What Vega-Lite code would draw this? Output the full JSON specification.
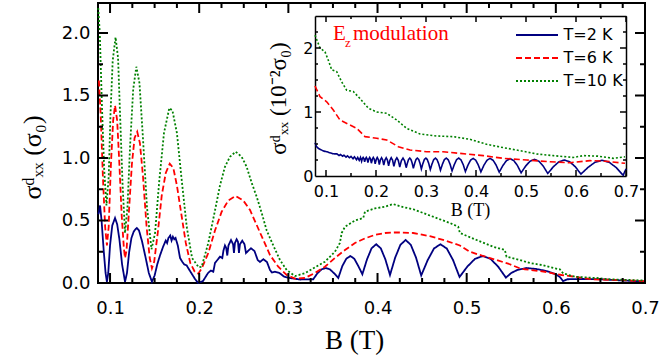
{
"$schema": "https://vega.github.io/schema/vega-lite/v6.json",
"width": 547, "height": 280,
"autosize": "none",
"padding": {"left": 98, "top": 3, "right": 15, "bottom": 79},
"datasets": {
"xmaj": [{"v":0.1},{"v":0.2},{"v":0.3},{"v":0.4},{"v":0.5},{"v":0.6},{"v":0.7}],
"xmin": [{"v":0.125},{"v":0.15},{"v":0.175},{"v":0.225},{"v":0.25},{"v":0.275},{"v":0.325},{"v":0.35},{"v":0.375},{"v":0.425},{"v":0.45},{"v":0.475},{"v":0.525},{"v":0.55},{"v":0.575},{"v":0.625},{"v":0.65},{"v":0.675}],
"ymaj": [{"v":0},{"v":0.5},{"v":1},{"v":1.5},{"v":2}],
"ymin": [{"v":0.25},{"v":0.75},{"v":1.25},{"v":1.75}],
"ixmin": [{"v":0.15},{"v":0.25},{"v":0.35},{"v":0.45},{"v":0.55},{"v":0.65}],
"iymaj": [{"v":1},{"v":2}],
"iymin": [{"v":0.25},{"v":0.5},{"v":0.75},{"v":1.25},{"v":1.5},{"v":1.75},{"v":2.25}],
"main": [
{"B":0.087,"s":0.55,"T":"T=2 K"},{"B":0.0888,"s":0.62,"T":"T=2 K"},{"B":0.0905,"s":0.5,"T":"T=2 K"},{"B":0.093,"s":0.25,"T":"T=2 K"},{"B":0.095,"s":0.08,"T":"T=2 K"},{"B":0.0965,"s":0.01,"T":"T=2 K"},{"B":0.098,"s":0.08,"T":"T=2 K"},{"B":0.1,"s":0.3,"T":"T=2 K"},{"B":0.1025,"s":0.46,"T":"T=2 K"},{"B":0.1056,"s":0.52,"T":"T=2 K"},{"B":0.108,"s":0.47,"T":"T=2 K"},{"B":0.1105,"s":0.35,"T":"T=2 K"},{"B":0.1135,"s":0.15,"T":"T=2 K"},{"B":0.1168,"s":0.01,"T":"T=2 K"},{"B":0.119,"s":0.08,"T":"T=2 K"},{"B":0.1215,"s":0.25,"T":"T=2 K"},{"B":0.124,"s":0.36,"T":"T=2 K"},{"B":0.1265,"s":0.41,"T":"T=2 K"},{"B":0.1285,"s":0.43,"T":"T=2 K"},{"B":0.13,"s":0.44,"T":"T=2 K"},{"B":0.1325,"s":0.42,"T":"T=2 K"},{"B":0.136,"s":0.33,"T":"T=2 K"},{"B":0.14,"s":0.2,"T":"T=2 K"},{"B":0.1435,"s":0.08,"T":"T=2 K"},{"B":0.147,"s":0.01,"T":"T=2 K"},{"B":0.15,"s":0.06,"T":"T=2 K"},{"B":0.153,"s":0.15,"T":"T=2 K"},{"B":0.156,"s":0.22,"T":"T=2 K"},{"B":0.1595,"s":0.29,"T":"T=2 K"},{"B":0.1625,"s":0.34,"T":"T=2 K"},{"B":0.164,"s":0.32,"T":"T=2 K"},{"B":0.1655,"s":0.36,"T":"T=2 K"},{"B":0.1675,"s":0.38,"T":"T=2 K"},{"B":0.169,"s":0.34,"T":"T=2 K"},{"B":0.1705,"s":0.37,"T":"T=2 K"},{"B":0.172,"s":0.35,"T":"T=2 K"},{"B":0.1735,"s":0.36,"T":"T=2 K"},{"B":0.176,"s":0.3,"T":"T=2 K"},{"B":0.1785,"s":0.2,"T":"T=2 K"},{"B":0.181,"s":0.17,"T":"T=2 K"},{"B":0.183,"s":0.15,"T":"T=2 K"},{"B":0.186,"s":0.14,"T":"T=2 K"},{"B":0.1885,"s":0.11,"T":"T=2 K"},{"B":0.192,"s":0.07,"T":"T=2 K"},{"B":0.1955,"s":0.03,"T":"T=2 K"},{"B":0.199,"s":0.0,"T":"T=2 K"},{"B":0.2043,"s":0.016,"T":"T=2 K"},{"B":0.2099,"s":0.08,"T":"T=2 K"},{"B":0.2132,"s":0.1,"T":"T=2 K"},{"B":0.2158,"s":0.09,"T":"T=2 K"},{"B":0.2177,"s":0.16,"T":"T=2 K"},{"B":0.2233,"s":0.21,"T":"T=2 K"},{"B":0.2259,"s":0.2,"T":"T=2 K"},{"B":0.2272,"s":0.26,"T":"T=2 K"},{"B":0.2289,"s":0.3,"T":"T=2 K"},{"B":0.2303,"s":0.28,"T":"T=2 K"},{"B":0.2315,"s":0.22,"T":"T=2 K"},{"B":0.2328,"s":0.3,"T":"T=2 K"},{"B":0.2357,"s":0.344,"T":"T=2 K"},{"B":0.238,"s":0.31,"T":"T=2 K"},{"B":0.239,"s":0.24,"T":"T=2 K"},{"B":0.2401,"s":0.32,"T":"T=2 K"},{"B":0.242,"s":0.35,"T":"T=2 K"},{"B":0.2435,"s":0.33,"T":"T=2 K"},{"B":0.2446,"s":0.24,"T":"T=2 K"},{"B":0.2457,"s":0.31,"T":"T=2 K"},{"B":0.2483,"s":0.338,"T":"T=2 K"},{"B":0.2508,"s":0.31,"T":"T=2 K"},{"B":0.2525,"s":0.24,"T":"T=2 K"},{"B":0.2547,"s":0.256,"T":"T=2 K"},{"B":0.2581,"s":0.278,"T":"T=2 K"},{"B":0.262,"s":0.256,"T":"T=2 K"},{"B":0.2656,"s":0.184,"T":"T=2 K"},{"B":0.2682,"s":0.168,"T":"T=2 K"},{"B":0.2719,"s":0.19,"T":"T=2 K"},{"B":0.276,"s":0.168,"T":"T=2 K"},{"B":0.2794,"s":0.104,"T":"T=2 K"},{"B":0.2816,"s":0.084,"T":"T=2 K"},{"B":0.285,"s":0.09,"T":"T=2 K"},{"B":0.29,"s":0.08,"T":"T=2 K"},{"B":0.2954,"s":0.05,"T":"T=2 K"},{"B":0.3018,"s":0.04,"T":"T=2 K"},{"B":0.313,"s":0.028,"T":"T=2 K"},{"B":0.3279,"s":0.03,"T":"T=2 K"},{"B":0.3326,"s":0.078,"T":"T=2 K"},{"B":0.3373,"s":0.109,"T":"T=2 K"},{"B":0.342,"s":0.12,"T":"T=2 K"},{"B":0.3466,"s":0.109,"T":"T=2 K"},{"B":0.3513,"s":0.078,"T":"T=2 K"},{"B":0.356,"s":0.04,"T":"T=2 K"},{"B":0.3605,"s":0.135,"T":"T=2 K"},{"B":0.365,"s":0.194,"T":"T=2 K"},{"B":0.3695,"s":0.216,"T":"T=2 K"},{"B":0.374,"s":0.194,"T":"T=2 K"},{"B":0.3785,"s":0.135,"T":"T=2 K"},{"B":0.383,"s":0.07,"T":"T=2 K"},{"B":0.3882,"s":0.189,"T":"T=2 K"},{"B":0.3933,"s":0.277,"T":"T=2 K"},{"B":0.3985,"s":0.31,"T":"T=2 K"},{"B":0.4037,"s":0.277,"T":"T=2 K"},{"B":0.4088,"s":0.189,"T":"T=2 K"},{"B":0.414,"s":0.064,"T":"T=2 K"},{"B":0.4198,"s":0.203,"T":"T=2 K"},{"B":0.4257,"s":0.306,"T":"T=2 K"},{"B":0.4315,"s":0.344,"T":"T=2 K"},{"B":0.4373,"s":0.306,"T":"T=2 K"},{"B":0.4432,"s":0.203,"T":"T=2 K"},{"B":0.449,"s":0.06,"T":"T=2 K"},{"B":0.4562,"s":0.182,"T":"T=2 K"},{"B":0.4633,"s":0.276,"T":"T=2 K"},{"B":0.4705,"s":0.31,"T":"T=2 K"},{"B":0.4777,"s":0.276,"T":"T=2 K"},{"B":0.4848,"s":0.182,"T":"T=2 K"},{"B":0.492,"s":0.048,"T":"T=2 K"},{"B":0.5007,"s":0.131,"T":"T=2 K"},{"B":0.5093,"s":0.193,"T":"T=2 K"},{"B":0.518,"s":0.216,"T":"T=2 K"},{"B":0.5267,"s":0.193,"T":"T=2 K"},{"B":0.5353,"s":0.131,"T":"T=2 K"},{"B":0.544,"s":0.043,"T":"T=2 K"},{"B":0.55,"s":0.08,"T":"T=2 K"},{"B":0.557,"s":0.105,"T":"T=2 K"},{"B":0.567,"s":0.12,"T":"T=2 K"},{"B":0.578,"s":0.112,"T":"T=2 K"},{"B":0.59,"s":0.095,"T":"T=2 K"},{"B":0.6,"s":0.07,"T":"T=2 K"},{"B":0.605,"s":0.045,"T":"T=2 K"},{"B":0.608,"s":0.015,"T":"T=2 K"},{"B":0.613,"s":0.03,"T":"T=2 K"},{"B":0.63,"s":0.032,"T":"T=2 K"},{"B":0.65,"s":0.03,"T":"T=2 K"},{"B":0.67,"s":0.022,"T":"T=2 K"},{"B":0.69,"s":0.015,"T":"T=2 K"},{"B":0.7,"s":0.012,"T":"T=2 K"},
{"B":0.0875,"s":1.62,"T":"T=6 K"},{"B":0.0895,"s":1.35,"T":"T=6 K"},{"B":0.092,"s":0.85,"T":"T=6 K"},{"B":0.0945,"s":0.45,"T":"T=6 K"},{"B":0.0965,"s":0.3,"T":"T=6 K"},{"B":0.0985,"s":0.45,"T":"T=6 K"},{"B":0.101,"s":0.95,"T":"T=6 K"},{"B":0.1035,"s":1.3,"T":"T=6 K"},{"B":0.1056,"s":1.42,"T":"T=6 K"},{"B":0.108,"s":1.3,"T":"T=6 K"},{"B":0.1105,"s":0.95,"T":"T=6 K"},{"B":0.113,"s":0.55,"T":"T=6 K"},{"B":0.1155,"s":0.28,"T":"T=6 K"},{"B":0.1168,"s":0.2,"T":"T=6 K"},{"B":0.1185,"s":0.26,"T":"T=6 K"},{"B":0.121,"s":0.55,"T":"T=6 K"},{"B":0.1245,"s":0.95,"T":"T=6 K"},{"B":0.1275,"s":1.16,"T":"T=6 K"},{"B":0.1305,"s":1.21,"T":"T=6 K"},{"B":0.1335,"s":1.12,"T":"T=6 K"},{"B":0.137,"s":0.85,"T":"T=6 K"},{"B":0.141,"s":0.45,"T":"T=6 K"},{"B":0.1445,"s":0.2,"T":"T=6 K"},{"B":0.147,"s":0.117,"T":"T=6 K"},{"B":0.1495,"s":0.17,"T":"T=6 K"},{"B":0.1535,"s":0.4,"T":"T=6 K"},{"B":0.158,"s":0.7,"T":"T=6 K"},{"B":0.1625,"s":0.88,"T":"T=6 K"},{"B":0.167,"s":0.955,"T":"T=6 K"},{"B":0.171,"s":0.92,"T":"T=6 K"},{"B":0.175,"s":0.78,"T":"T=6 K"},{"B":0.18,"s":0.55,"T":"T=6 K"},{"B":0.185,"s":0.32,"T":"T=6 K"},{"B":0.19,"s":0.16,"T":"T=6 K"},{"B":0.195,"s":0.09,"T":"T=6 K"},{"B":0.199,"s":0.075,"T":"T=6 K"},{"B":0.2028,"s":0.117,"T":"T=6 K"},{"B":0.2102,"s":0.24,"T":"T=6 K"},{"B":0.2177,"s":0.42,"T":"T=6 K"},{"B":0.2252,"s":0.57,"T":"T=6 K"},{"B":0.2326,"s":0.66,"T":"T=6 K"},{"B":0.2409,"s":0.696,"T":"T=6 K"},{"B":0.2494,"s":0.66,"T":"T=6 K"},{"B":0.257,"s":0.584,"T":"T=6 K"},{"B":0.2645,"s":0.464,"T":"T=6 K"},{"B":0.2719,"s":0.344,"T":"T=6 K"},{"B":0.2794,"s":0.224,"T":"T=6 K"},{"B":0.2887,"s":0.13,"T":"T=6 K"},{"B":0.2981,"s":0.064,"T":"T=6 K"},{"B":0.3074,"s":0.035,"T":"T=6 K"},{"B":0.3186,"s":0.04,"T":"T=6 K"},{"B":0.3298,"s":0.08,"T":"T=6 K"},{"B":0.341,"s":0.13,"T":"T=6 K"},{"B":0.3522,"s":0.2,"T":"T=6 K"},{"B":0.3635,"s":0.264,"T":"T=6 K"},{"B":0.3747,"s":0.32,"T":"T=6 K"},{"B":0.3859,"s":0.357,"T":"T=6 K"},{"B":0.3971,"s":0.385,"T":"T=6 K"},{"B":0.4083,"s":0.4,"T":"T=6 K"},{"B":0.4214,"s":0.405,"T":"T=6 K"},{"B":0.44,"s":0.4,"T":"T=6 K"},{"B":0.4587,"s":0.375,"T":"T=6 K"},{"B":0.4775,"s":0.336,"T":"T=6 K"},{"B":0.4924,"s":0.3,"T":"T=6 K"},{"B":0.5036,"s":0.25,"T":"T=6 K"},{"B":0.5185,"s":0.216,"T":"T=6 K"},{"B":0.5335,"s":0.184,"T":"T=6 K"},{"B":0.5484,"s":0.15,"T":"T=6 K"},{"B":0.5596,"s":0.117,"T":"T=6 K"},{"B":0.5652,"s":0.11,"T":"T=6 K"},{"B":0.5877,"s":0.09,"T":"T=6 K"},{"B":0.6064,"s":0.064,"T":"T=6 K"},{"B":0.6213,"s":0.05,"T":"T=6 K"},{"B":0.64,"s":0.03,"T":"T=6 K"},{"B":0.6639,"s":0.025,"T":"T=6 K"},{"B":0.7,"s":0.015,"T":"T=6 K"},
{"B":0.0868,"s":2.2,"T":"T=10 K"},{"B":0.0885,"s":2.0,"T":"T=10 K"},{"B":0.091,"s":1.4,"T":"T=10 K"},{"B":0.0935,"s":0.9,"T":"T=10 K"},{"B":0.096,"s":0.62,"T":"T=10 K"},{"B":0.0985,"s":0.85,"T":"T=10 K"},{"B":0.1005,"s":1.35,"T":"T=10 K"},{"B":0.103,"s":1.78,"T":"T=10 K"},{"B":0.1062,"s":1.966,"T":"T=10 K"},{"B":0.109,"s":1.8,"T":"T=10 K"},{"B":0.1115,"s":1.3,"T":"T=10 K"},{"B":0.114,"s":0.8,"T":"T=10 K"},{"B":0.1168,"s":0.4,"T":"T=10 K"},{"B":0.1195,"s":0.6,"T":"T=10 K"},{"B":0.1225,"s":1.1,"T":"T=10 K"},{"B":0.126,"s":1.55,"T":"T=10 K"},{"B":0.1295,"s":1.73,"T":"T=10 K"},{"B":0.133,"s":1.6,"T":"T=10 K"},{"B":0.137,"s":1.15,"T":"T=10 K"},{"B":0.1415,"s":0.6,"T":"T=10 K"},{"B":0.1465,"s":0.27,"T":"T=10 K"},{"B":0.1505,"s":0.4,"T":"T=10 K"},{"B":0.155,"s":0.8,"T":"T=10 K"},{"B":0.1605,"s":1.2,"T":"T=10 K"},{"B":0.1665,"s":1.4,"T":"T=10 K"},{"B":0.17,"s":1.38,"T":"T=10 K"},{"B":0.175,"s":1.2,"T":"T=10 K"},{"B":0.18,"s":0.85,"T":"T=10 K"},{"B":0.186,"s":0.45,"T":"T=10 K"},{"B":0.192,"s":0.2,"T":"T=10 K"},{"B":0.1995,"s":0.125,"T":"T=10 K"},{"B":0.2028,"s":0.13,"T":"T=10 K"},{"B":0.2102,"s":0.32,"T":"T=10 K"},{"B":0.2177,"s":0.58,"T":"T=10 K"},{"B":0.2233,"s":0.78,"T":"T=10 K"},{"B":0.2289,"s":0.93,"T":"T=10 K"},{"B":0.2345,"s":1.01,"T":"T=10 K"},{"B":0.2409,"s":1.05,"T":"T=10 K"},{"B":0.2476,"s":1.01,"T":"T=10 K"},{"B":0.2532,"s":0.93,"T":"T=10 K"},{"B":0.2589,"s":0.8,"T":"T=10 K"},{"B":0.2645,"s":0.69,"T":"T=10 K"},{"B":0.2701,"s":0.56,"T":"T=10 K"},{"B":0.2757,"s":0.42,"T":"T=10 K"},{"B":0.2831,"s":0.3,"T":"T=10 K"},{"B":0.2906,"s":0.184,"T":"T=10 K"},{"B":0.2981,"s":0.104,"T":"T=10 K"},{"B":0.3074,"s":0.056,"T":"T=10 K"},{"B":0.3186,"s":0.078,"T":"T=10 K"},{"B":0.3298,"s":0.125,"T":"T=10 K"},{"B":0.341,"s":0.17,"T":"T=10 K"},{"B":0.3522,"s":0.25,"T":"T=10 K"},{"B":0.3578,"s":0.32,"T":"T=10 K"},{"B":0.3598,"s":0.4,"T":"T=10 K"},{"B":0.3635,"s":0.45,"T":"T=10 K"},{"B":0.3747,"s":0.5,"T":"T=10 K"},{"B":0.384,"s":0.52,"T":"T=10 K"},{"B":0.3859,"s":0.57,"T":"T=10 K"},{"B":0.3971,"s":0.597,"T":"T=10 K"},{"B":0.4083,"s":0.61,"T":"T=10 K"},{"B":0.4173,"s":0.632,"T":"T=10 K"},{"B":0.427,"s":0.61,"T":"T=10 K"},{"B":0.44,"s":0.59,"T":"T=10 K"},{"B":0.4587,"s":0.54,"T":"T=10 K"},{"B":0.4812,"s":0.48,"T":"T=10 K"},{"B":0.4905,"s":0.45,"T":"T=10 K"},{"B":0.4924,"s":0.4,"T":"T=10 K"},{"B":0.5111,"s":0.344,"T":"T=10 K"},{"B":0.5297,"s":0.29,"T":"T=10 K"},{"B":0.5428,"s":0.264,"T":"T=10 K"},{"B":0.5447,"s":0.21,"T":"T=10 K"},{"B":0.5596,"s":0.184,"T":"T=10 K"},{"B":0.5709,"s":0.16,"T":"T=10 K"},{"B":0.584,"s":0.144,"T":"T=10 K"},{"B":0.5989,"s":0.117,"T":"T=10 K"},{"B":0.6045,"s":0.11,"T":"T=10 K"},{"B":0.6082,"s":0.077,"T":"T=10 K"},{"B":0.6213,"s":0.05,"T":"T=10 K"},{"B":0.6456,"s":0.04,"T":"T=10 K"},{"B":0.6583,"s":0.03,"T":"T=10 K"},{"B":0.7,"s":0.02,"T":"T=10 K"}
],
"inset": [
{"B":0.078,"s":0.52,"T":"T=2 K"},{"B":0.081,"s":0.46,"T":"T=2 K"},{"B":0.085,"s":0.43,"T":"T=2 K"},{"B":0.09,"s":0.41,"T":"T=2 K"},{"B":0.095,"s":0.39,"T":"T=2 K"},{"B":0.101,"s":0.38,"T":"T=2 K"},{"B":0.107,"s":0.365,"T":"T=2 K"},{"B":0.113,"s":0.35,"T":"T=2 K"},{"B":0.118,"s":0.345,"T":"T=2 K"},{"B":0.122,"s":0.345,"T":"T=2 K"},{"B":0.126,"s":0.32,"T":"T=2 K"},{"B":0.129,"s":0.335,"T":"T=2 K"},{"B":0.133,"s":0.31,"T":"T=2 K"},{"B":0.136,"s":0.325,"T":"T=2 K"},{"B":0.14,"s":0.295,"T":"T=2 K"},{"B":0.143,"s":0.315,"T":"T=2 K"},{"B":0.147,"s":0.285,"T":"T=2 K"},{"B":0.15,"s":0.305,"T":"T=2 K"},{"B":0.154,"s":0.27,"T":"T=2 K"},{"B":0.157,"s":0.3,"T":"T=2 K"},{"B":0.161,"s":0.255,"T":"T=2 K"},{"B":0.1635,"s":0.29,"T":"T=2 K"},{"B":0.1665,"s":0.245,"T":"T=2 K"},{"B":0.169,"s":0.29,"T":"T=2 K"},
{"B":0.1712,"s":0.23,"T":"T=2 K"},{"B":0.1727,"s":0.271,"T":"T=2 K"},{"B":0.1743,"s":0.29,"T":"T=2 K"},{"B":0.1758,"s":0.271,"T":"T=2 K"},{"B":0.1773,"s":0.22,"T":"T=2 K"},{"B":0.1789,"s":0.268,"T":"T=2 K"},{"B":0.1806,"s":0.29,"T":"T=2 K"},{"B":0.1822,"s":0.268,"T":"T=2 K"},{"B":0.1838,"s":0.21,"T":"T=2 K"},{"B":0.1856,"s":0.265,"T":"T=2 K"},{"B":0.1873,"s":0.29,"T":"T=2 K"},{"B":0.1891,"s":0.265,"T":"T=2 K"},{"B":0.1908,"s":0.2,"T":"T=2 K"},{"B":0.1927,"s":0.262,"T":"T=2 K"},{"B":0.1946,"s":0.29,"T":"T=2 K"},{"B":0.1965,"s":0.262,"T":"T=2 K"},{"B":0.1984,"s":0.19,"T":"T=2 K"},{"B":0.2005,"s":0.259,"T":"T=2 K"},{"B":0.2025,"s":0.29,"T":"T=2 K"},{"B":0.2046,"s":0.259,"T":"T=2 K"},{"B":0.2066,"s":0.18,"T":"T=2 K"},{"B":0.2088,"s":0.253,"T":"T=2 K"},{"B":0.2111,"s":0.285,"T":"T=2 K"},{"B":0.2133,"s":0.253,"T":"T=2 K"},{"B":0.2155,"s":0.17,"T":"T=2 K"},{"B":0.2179,"s":0.25,"T":"T=2 K"},{"B":0.2204,"s":0.285,"T":"T=2 K"},{"B":0.2228,"s":0.25,"T":"T=2 K"},{"B":0.2252,"s":0.16,"T":"T=2 K"},{"B":0.2279,"s":0.247,"T":"T=2 K"},{"B":0.2305,"s":0.285,"T":"T=2 K"},{"B":0.2332,"s":0.247,"T":"T=2 K"},{"B":0.2358,"s":0.15,"T":"T=2 K"},{"B":0.2387,"s":0.244,"T":"T=2 K"},{"B":0.2417,"s":0.285,"T":"T=2 K"},{"B":0.2446,"s":0.244,"T":"T=2 K"},{"B":0.2475,"s":0.14,"T":"T=2 K"},{"B":0.2507,"s":0.238,"T":"T=2 K"},{"B":0.254,"s":0.28,"T":"T=2 K"},{"B":0.2572,"s":0.238,"T":"T=2 K"},{"B":0.2604,"s":0.13,"T":"T=2 K"},{"B":0.2628,"s":0.203,"T":"T=2 K"},{"B":0.2652,"s":0.259,"T":"T=2 K"},{"B":0.2676,"s":0.28,"T":"T=2 K"},{"B":0.2699,"s":0.259,"T":"T=2 K"},{"B":0.2723,"s":0.203,"T":"T=2 K"},{"B":0.2747,"s":0.12,"T":"T=2 K"},{"B":0.2774,"s":0.198,"T":"T=2 K"},{"B":0.28,"s":0.258,"T":"T=2 K"},{"B":0.2827,"s":0.28,"T":"T=2 K"},{"B":0.2854,"s":0.258,"T":"T=2 K"},{"B":0.288,"s":0.198,"T":"T=2 K"},{"B":0.2907,"s":0.11,"T":"T=2 K"},{"B":0.2937,"s":0.193,"T":"T=2 K"},{"B":0.2967,"s":0.257,"T":"T=2 K"},{"B":0.2997,"s":0.28,"T":"T=2 K"},{"B":0.3026,"s":0.257,"T":"T=2 K"},{"B":0.3056,"s":0.193,"T":"T=2 K"},{"B":0.3086,"s":0.1,"T":"T=2 K"},{"B":0.312,"s":0.188,"T":"T=2 K"},{"B":0.3154,"s":0.255,"T":"T=2 K"},{"B":0.3188,"s":0.28,"T":"T=2 K"},{"B":0.3221,"s":0.255,"T":"T=2 K"},{"B":0.3255,"s":0.188,"T":"T=2 K"},{"B":0.3289,"s":0.09,"T":"T=2 K"},{"B":0.3328,"s":0.183,"T":"T=2 K"},{"B":0.3366,"s":0.254,"T":"T=2 K"},{"B":0.3405,"s":0.28,"T":"T=2 K"},{"B":0.3444,"s":0.254,"T":"T=2 K"},{"B":0.3482,"s":0.183,"T":"T=2 K"},{"B":0.3521,"s":0.08,"T":"T=2 K"},{"B":0.3566,"s":0.178,"T":"T=2 K"},{"B":0.361,"s":0.253,"T":"T=2 K"},{"B":0.3655,"s":0.28,"T":"T=2 K"},{"B":0.3699,"s":0.253,"T":"T=2 K"},{"B":0.3744,"s":0.178,"T":"T=2 K"},{"B":0.3788,"s":0.07,"T":"T=2 K"},{"B":0.384,"s":0.171,"T":"T=2 K"},{"B":0.3891,"s":0.247,"T":"T=2 K"},{"B":0.3943,"s":0.275,"T":"T=2 K"},{"B":0.3995,"s":0.247,"T":"T=2 K"},{"B":0.4046,"s":0.171,"T":"T=2 K"},{"B":0.4098,"s":0.065,"T":"T=2 K"},{"B":0.4159,"s":0.169,"T":"T=2 K"},{"B":0.422,"s":0.246,"T":"T=2 K"},{"B":0.4281,"s":0.275,"T":"T=2 K"},{"B":0.4342,"s":0.246,"T":"T=2 K"},{"B":0.4403,"s":0.169,"T":"T=2 K"},{"B":0.4464,"s":0.06,"T":"T=2 K"},{"B":0.4537,"s":0.163,"T":"T=2 K"},{"B":0.461,"s":0.241,"T":"T=2 K"},{"B":0.4683,"s":0.27,"T":"T=2 K"},{"B":0.4756,"s":0.241,"T":"T=2 K"},{"B":0.4829,"s":0.163,"T":"T=2 K"},{"B":0.4902,"s":0.05,"T":"T=2 K"},{"B":0.4991,"s":0.153,"T":"T=2 K"},{"B":0.508,"s":0.231,"T":"T=2 K"},{"B":0.5169,"s":0.26,"T":"T=2 K"},{"B":0.5257,"s":0.231,"T":"T=2 K"},{"B":0.5346,"s":0.153,"T":"T=2 K"},{"B":0.5435,"s":0.04,"T":"T=2 K"},{"B":0.5546,"s":0.143,"T":"T=2 K"},{"B":0.5656,"s":0.221,"T":"T=2 K"},{"B":0.5767,"s":0.25,"T":"T=2 K"},{"B":0.5877,"s":0.221,"T":"T=2 K"},{"B":0.5988,"s":0.143,"T":"T=2 K"},{"B":0.6098,"s":0.03,"T":"T=2 K"},{"B":0.6239,"s":0.133,"T":"T=2 K"},{"B":0.638,"s":0.215,"T":"T=2 K"},{"B":0.6521,"s":0.245,"T":"T=2 K"},{"B":0.6662,"s":0.215,"T":"T=2 K"},{"B":0.6803,"s":0.133,"T":"T=2 K"},{"B":0.6944,"s":0.01,"T":"T=2 K"},{"B":0.697,"s":0.06,"T":"T=2 K"},{"B":0.7,"s":0.11,"T":"T=2 K"},
{"B":0.078,"s":1.406,"T":"T=6 K"},{"B":0.088,"s":1.24,"T":"T=6 K"},{"B":0.1014,"s":1.16,"T":"T=6 K"},{"B":0.1146,"s":1.03,"T":"T=6 K"},{"B":0.128,"s":0.875,"T":"T=6 K"},{"B":0.1446,"s":0.81,"T":"T=6 K"},{"B":0.1614,"s":0.745,"T":"T=6 K"},{"B":0.178,"s":0.615,"T":"T=6 K"},{"B":0.2014,"s":0.59,"T":"T=6 K"},{"B":0.2214,"s":0.5625,"T":"T=6 K"},{"B":0.2446,"s":0.458,"T":"T=6 K"},{"B":0.268,"s":0.406,"T":"T=6 K"},{"B":0.3014,"s":0.38,"T":"T=6 K"},{"B":0.334,"s":0.378,"T":"T=6 K"},{"B":0.368,"s":0.354,"T":"T=6 K"},{"B":0.4146,"s":0.318,"T":"T=6 K"},{"B":0.4546,"s":0.276,"T":"T=6 K"},{"B":0.5014,"s":0.25,"T":"T=6 K"},{"B":0.5446,"s":0.224,"T":"T=6 K"},{"B":0.588,"s":0.208,"T":"T=6 K"},{"B":0.628,"s":0.24,"T":"T=6 K"},{"B":0.66,"s":0.23,"T":"T=6 K"},{"B":0.698,"s":0.198,"T":"T=6 K"},
{"B":0.078,"s":2.2,"T":"T=10 K"},{"B":0.088,"s":2.0,"T":"T=10 K"},{"B":0.098,"s":1.94,"T":"T=10 K"},{"B":0.1046,"s":1.81,"T":"T=10 K"},{"B":0.1114,"s":1.66,"T":"T=10 K"},{"B":0.1214,"s":1.63,"T":"T=10 K"},{"B":0.1314,"s":1.47,"T":"T=10 K"},{"B":0.1414,"s":1.34,"T":"T=10 K"},{"B":0.1546,"s":1.32,"T":"T=10 K"},{"B":0.168,"s":1.21,"T":"T=10 K"},{"B":0.1846,"s":1.06,"T":"T=10 K"},{"B":0.2014,"s":1.0,"T":"T=10 K"},{"B":0.2214,"s":0.98,"T":"T=10 K"},{"B":0.2414,"s":0.875,"T":"T=10 K"},{"B":0.2614,"s":0.745,"T":"T=10 K"},{"B":0.288,"s":0.656,"T":"T=10 K"},{"B":0.3214,"s":0.625,"T":"T=10 K"},{"B":0.3546,"s":0.615,"T":"T=10 K"},{"B":0.388,"s":0.573,"T":"T=10 K"},{"B":0.4214,"s":0.495,"T":"T=10 K"},{"B":0.4546,"s":0.443,"T":"T=10 K"},{"B":0.488,"s":0.396,"T":"T=10 K"},{"B":0.5214,"s":0.344,"T":"T=10 K"},{"B":0.5546,"s":0.318,"T":"T=10 K"},{"B":0.5946,"s":0.29,"T":"T=10 K"},{"B":0.6146,"s":0.318,"T":"T=10 K"},{"B":0.644,"s":0.31,"T":"T=10 K"},{"B":0.6746,"s":0.276,"T":"T=10 K"},{"B":0.698,"s":0.3,"T":"T=10 K"}
]
},
"config": {
"view": {"stroke": "black", "strokeWidth": 2},
"axis": {"grid": false, "domainColor": "black", "labelColor": "black", "titleColor": "black", "labelFont": "DejaVu Sans", "titleFont": "Liberation Serif", "titleFontWeight": "normal", "labelFlush": false, "labelOverlap": false, "labelBound": false}
},
"layer": [
{
"data": {"name": "main"},
"mark": {"type": "line", "strokeWidth": 1.8},
"encoding": {
"x": {"field": "B", "type": "quantitative", "scale": {"domain": [0.0865, 0.7], "nice": false, "zero": false},
"axis": {"orient": "bottom", "domain": false, "ticks": false, "values": [0.1,0.2,0.3,0.4,0.5,0.6,0.7], "format": ".1f", "labelFontSize": 18, "labelPadding": 16, "title": "B (T)", "titleFontSize": 27, "titleX": 256, "titleY": 65, "titleBaseline": "alphabetic"}},
"y": {"field": "s", "type": "quantitative", "scale": {"domain": [0, 2.24], "nice": false, "zero": false},
"axis": {"orient": "left", "domain": false, "ticks": false, "values": [0,0.5,1,1.5,2], "format": ".1f", "labelFontSize": 18, "labelPadding": 8, "title": "σᵈₓₓ (σ₀)", "titleFontSize": 26, "titleX": -58, "titleY": 154, "titleBaseline": "alphabetic"}},
"color": {"field": "T", "type": "nominal", "scale": {"domain": ["T=2 K", "T=6 K", "T=10 K"], "range": ["#000080", "#ff0000", "#008000"]}, "legend": {"orient": "none", "legendX": 427.5, "legendY": 20.5, "title": null, "symbolType": "M-2,0H2", "symbolSize": 441, "symbolStrokeWidth": 2, "labelFont": "DejaVu Sans", "labelFontSize": 16, "labelOffset": 15, "rowPadding": 3, "padding": 0}},
"strokeDash": {"field": "T", "type": "nominal", "scale": {"domain": ["T=2 K", "T=6 K", "T=10 K"], "range": [[1,0],[6,3],[2,2]]}, "legend": {"orient": "none", "legendX": 427.5, "legendY": 20.5, "title": null, "symbolType": "M-2,0H2", "symbolSize": 441, "symbolStrokeWidth": 2, "labelFont": "DejaVu Sans", "labelFontSize": 16, "labelOffset": 15, "rowPadding": 3, "padding": 0}}
}
},
{"data": {"name": "xmaj"}, "mark": {"type": "tick", "orient": "vertical", "color": "black", "opacity": 1, "size": 10, "thickness": 2},
"encoding": {"x": {"field": "v", "type": "quantitative", "scale": {"domain": [0.0865, 0.7], "nice": false, "zero": false}, "axis": null}, "y": {"datum": 0.04, "type": "quantitative", "scale": {"domain": [0, 2.24], "nice": false, "zero": false}, "axis": null}}},
{"data": {"name": "xmaj"}, "mark": {"type": "tick", "orient": "vertical", "color": "black", "opacity": 1, "size": 10, "thickness": 2},
"encoding": {"x": {"field": "v", "type": "quantitative", "scale": {"domain": [0.0865, 0.7], "nice": false, "zero": false}, "axis": null}, "y": {"datum": 2.2, "type": "quantitative", "scale": {"domain": [0, 2.24], "nice": false, "zero": false}, "axis": null}}},
{"data": {"name": "xmin"}, "mark": {"type": "tick", "orient": "vertical", "color": "black", "opacity": 1, "size": 5, "thickness": 2},
"encoding": {"x": {"field": "v", "type": "quantitative", "scale": {"domain": [0.0865, 0.7], "nice": false, "zero": false}, "axis": null}, "y": {"datum": 0.02, "type": "quantitative", "scale": {"domain": [0, 2.24], "nice": false, "zero": false}, "axis": null}}},
{"data": {"name": "xmin"}, "mark": {"type": "tick", "orient": "vertical", "color": "black", "opacity": 1, "size": 5, "thickness": 2},
"encoding": {"x": {"field": "v", "type": "quantitative", "scale": {"domain": [0.0865, 0.7], "nice": false, "zero": false}, "axis": null}, "y": {"datum": 2.22, "type": "quantitative", "scale": {"domain": [0, 2.24], "nice": false, "zero": false}, "axis": null}}},
{"data": {"name": "ymaj"}, "mark": {"type": "tick", "orient": "horizontal", "color": "black", "opacity": 1, "size": 10, "thickness": 2},
"encoding": {"y": {"field": "v", "type": "quantitative", "scale": {"domain": [0, 2.24], "nice": false, "zero": false}, "axis": null}, "x": {"datum": 0.0921, "type": "quantitative", "scale": {"domain": [0.0865, 0.7], "nice": false, "zero": false}, "axis": null}}},
{"data": {"name": "ymaj"}, "mark": {"type": "tick", "orient": "horizontal", "color": "black", "opacity": 1, "size": 10, "thickness": 2},
"encoding": {"y": {"field": "v", "type": "quantitative", "scale": {"domain": [0, 2.24], "nice": false, "zero": false}, "axis": null}, "x": {"datum": 0.6944, "type": "quantitative", "scale": {"domain": [0.0865, 0.7], "nice": false, "zero": false}, "axis": null}}},
{"data": {"name": "ymin"}, "mark": {"type": "tick", "orient": "horizontal", "color": "black", "opacity": 1, "size": 5, "thickness": 2},
"encoding": {"y": {"field": "v", "type": "quantitative", "scale": {"domain": [0, 2.24], "nice": false, "zero": false}, "axis": null}, "x": {"datum": 0.0893, "type": "quantitative", "scale": {"domain": [0.0865, 0.7], "nice": false, "zero": false}, "axis": null}}},
{"data": {"name": "ymin"}, "mark": {"type": "tick", "orient": "horizontal", "color": "black", "opacity": 1, "size": 5, "thickness": 2},
"encoding": {"y": {"field": "v", "type": "quantitative", "scale": {"domain": [0, 2.24], "nice": false, "zero": false}, "axis": null}, "x": {"datum": 0.6972, "type": "quantitative", "scale": {"domain": [0.0865, 0.7], "nice": false, "zero": false}, "axis": null}}},
{
"data": {"name": "inset"},
"mark": {"type": "line", "strokeWidth": 1.6},
"encoding": {
"x": {"field": "B", "type": "quantitative", "scale": {"domain": [0.078, 0.7], "range": [217, 528], "nice": false, "zero": false},
"axis": {"orient": "bottom", "offset": -107, "values": [0.1,0.2,0.3,0.4,0.5,0.6,0.7], "format": ".1f", "domainWidth": 1.5, "ticks": false, "labelFontSize": 16, "labelPadding": 7, "title": "B (T)", "titleFontSize": 18, "titleX": 372, "titleY": 39, "titleBaseline": "alphabetic"}},
"y": {"field": "s", "type": "quantitative", "scale": {"domain": [0, 2.5], "range": [173, 13], "nice": false, "zero": false},
"axis": {"orient": "left", "offset": -217, "values": [0,1,2], "format": "d", "domainWidth": 1.5, "ticks": false, "labelFontSize": 16, "labelPadding": 2, "title": "σᵈₓₓ (10⁻²σ₀)", "titleFontSize": 23, "titleX": -30, "titleY": 95, "titleBaseline": "alphabetic"}},
"color": {"field": "T", "type": "nominal", "scale": {"domain": ["T=2 K", "T=6 K", "T=10 K"], "range": ["#000080", "#ff0000", "#008000"]}, "legend": {"orient": "none", "legendX": 427.5, "legendY": 20.5, "title": null, "symbolType": "M-2,0H2", "symbolSize": 441, "symbolStrokeWidth": 2, "labelFont": "DejaVu Sans", "labelFontSize": 16, "labelOffset": 15, "rowPadding": 3, "padding": 0}},
"strokeDash": {"field": "T", "type": "nominal", "scale": {"domain": ["T=2 K", "T=6 K", "T=10 K"], "range": [[1,0],[6,3],[2,2]]}, "legend": {"orient": "none", "legendX": 427.5, "legendY": 20.5, "title": null, "symbolType": "M-2,0H2", "symbolSize": 441, "symbolStrokeWidth": 2, "labelFont": "DejaVu Sans", "labelFontSize": 16, "labelOffset": 15, "rowPadding": 3, "padding": 0}}
}
},
{
"data": {"name": "inset"},
"mark": {"type": "point", "opacity": 0},
"encoding": {
"x": {"field": "B", "type": "quantitative", "scale": {"domain": [0.078, 0.7], "range": [217, 528], "nice": false, "zero": false},
"axis": {"orient": "top", "offset": -13, "values": [0.1,0.2,0.3,0.4,0.5,0.6,0.7], "domainWidth": 1.5, "ticks": false, "labels": false, "title": null}},
"y": {"field": "s", "type": "quantitative", "scale": {"domain": [0, 2.5], "range": [173, 13], "nice": false, "zero": false},
"axis": {"orient": "right", "offset": -19, "values": [0,1,2], "domainWidth": 1.5, "ticks": false, "labels": false, "title": null}}
}
},
{"data": {"name": "xmaj"}, "mark": {"type": "tick", "orient": "vertical", "color": "black", "opacity": 1, "size": 6, "thickness": 1.5},
"encoding": {"x": {"field": "v", "type": "quantitative", "scale": {"domain": [0.078, 0.7], "range": [217, 528], "nice": false, "zero": false}, "axis": null}, "y": {"datum": 0.047, "type": "quantitative", "scale": {"domain": [0, 2.5], "range": [173, 13], "nice": false, "zero": false}, "axis": null}}},
{"data": {"name": "xmaj"}, "mark": {"type": "tick", "orient": "vertical", "color": "black", "opacity": 1, "size": 6, "thickness": 1.5},
"encoding": {"x": {"field": "v", "type": "quantitative", "scale": {"domain": [0.078, 0.7], "range": [217, 528], "nice": false, "zero": false}, "axis": null}, "y": {"datum": 2.453, "type": "quantitative", "scale": {"domain": [0, 2.5], "range": [173, 13], "nice": false, "zero": false}, "axis": null}}},
{"data": {"name": "ixmin"}, "mark": {"type": "tick", "orient": "vertical", "color": "black", "opacity": 1, "size": 3, "thickness": 1.5},
"encoding": {"x": {"field": "v", "type": "quantitative", "scale": {"domain": [0.078, 0.7], "range": [217, 528], "nice": false, "zero": false}, "axis": null}, "y": {"datum": 0.0234, "type": "quantitative", "scale": {"domain": [0, 2.5], "range": [173, 13], "nice": false, "zero": false}, "axis": null}}},
{"data": {"name": "ixmin"}, "mark": {"type": "tick", "orient": "vertical", "color": "black", "opacity": 1, "size": 3, "thickness": 1.5},
"encoding": {"x": {"field": "v", "type": "quantitative", "scale": {"domain": [0.078, 0.7], "range": [217, 528], "nice": false, "zero": false}, "axis": null}, "y": {"datum": 2.4766, "type": "quantitative", "scale": {"domain": [0, 2.5], "range": [173, 13], "nice": false, "zero": false}, "axis": null}}},
{"data": {"name": "iymaj"}, "mark": {"type": "tick", "orient": "horizontal", "color": "black", "opacity": 1, "size": 6, "thickness": 1.5},
"encoding": {"y": {"field": "v", "type": "quantitative", "scale": {"domain": [0, 2.5], "range": [173, 13], "nice": false, "zero": false}, "axis": null}, "x": {"datum": 0.084, "type": "quantitative", "scale": {"domain": [0.078, 0.7], "range": [217, 528], "nice": false, "zero": false}, "axis": null}}},
{"data": {"name": "iymaj"}, "mark": {"type": "tick", "orient": "horizontal", "color": "black", "opacity": 1, "size": 6, "thickness": 1.5},
"encoding": {"y": {"field": "v", "type": "quantitative", "scale": {"domain": [0, 2.5], "range": [173, 13], "nice": false, "zero": false}, "axis": null}, "x": {"datum": 0.694, "type": "quantitative", "scale": {"domain": [0.078, 0.7], "range": [217, 528], "nice": false, "zero": false}, "axis": null}}},
{"data": {"name": "iymin"}, "mark": {"type": "tick", "orient": "horizontal", "color": "black", "opacity": 1, "size": 3, "thickness": 1.5},
"encoding": {"y": {"field": "v", "type": "quantitative", "scale": {"domain": [0, 2.5], "range": [173, 13], "nice": false, "zero": false}, "axis": null}, "x": {"datum": 0.081, "type": "quantitative", "scale": {"domain": [0.078, 0.7], "range": [217, 528], "nice": false, "zero": false}, "axis": null}}},
{"data": {"name": "iymin"}, "mark": {"type": "tick", "orient": "horizontal", "color": "black", "opacity": 1, "size": 3, "thickness": 1.5},
"encoding": {"y": {"field": "v", "type": "quantitative", "scale": {"domain": [0, 2.5], "range": [173, 13], "nice": false, "zero": false}, "axis": null}, "x": {"datum": 0.697, "type": "quantitative", "scale": {"domain": [0.078, 0.7], "range": [217, 528], "nice": false, "zero": false}, "axis": null}}},
{
"data": {"values": [{"label": "E"}]},
"mark": {"type": "text", "font": "Liberation Serif", "fontSize": 21, "color": "#ff0000", "align": "left", "baseline": "alphabetic"},
"encoding": {"x": {"datum": 0.114, "type": "quantitative", "scale": {"domain": [0.078, 0.7], "range": [217, 528], "nice": false, "zero": false}, "axis": null}, "y": {"datum": 2.125, "type": "quantitative", "scale": {"domain": [0, 2.5], "range": [173, 13], "nice": false, "zero": false}, "axis": null}, "text": {"field": "label"}}
},
{
"data": {"values": [{"label": "z"}]},
"mark": {"type": "text", "font": "Liberation Serif", "fontSize": 13, "color": "#ff0000", "align": "left", "baseline": "alphabetic"},
"encoding": {"x": {"datum": 0.138, "type": "quantitative", "scale": {"domain": [0.078, 0.7], "range": [217, 528], "nice": false, "zero": false}, "axis": null}, "y": {"datum": 2.016, "type": "quantitative", "scale": {"domain": [0, 2.5], "range": [173, 13], "nice": false, "zero": false}, "axis": null}, "text": {"field": "label"}}
},
{
"data": {"values": [{"label": "modulation"}]},
"mark": {"type": "text", "font": "Liberation Serif", "fontSize": 21, "color": "#ff0000", "align": "left", "baseline": "alphabetic"},
"encoding": {"x": {"datum": 0.154, "type": "quantitative", "scale": {"domain": [0.078, 0.7], "range": [217, 528], "nice": false, "zero": false}, "axis": null}, "y": {"datum": 2.125, "type": "quantitative", "scale": {"domain": [0, 2.5], "range": [173, 13], "nice": false, "zero": false}, "axis": null}, "text": {"field": "label"}}
}
],
"resolve": {"scale": {"x": "independent", "y": "independent"}, "axis": {"x": "independent", "y": "independent"}}
}
